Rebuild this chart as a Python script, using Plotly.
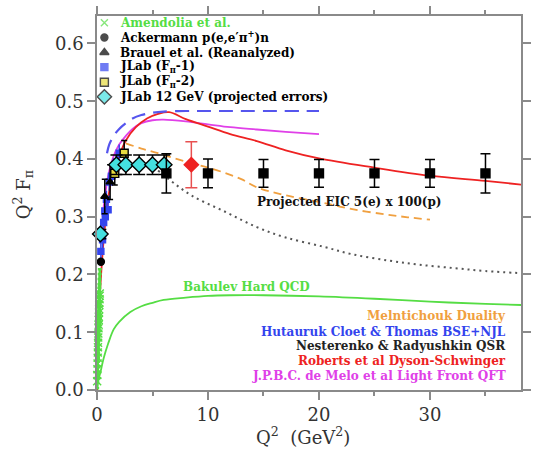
import plotly.graph_objects as go

# ---- theory curves: Q^2 (GeV^2) vs Q^2 F_pi ----
bakulev_q2 = [0, 0.1, 0.3, 0.6, 1, 1.5, 2, 3, 4, 5, 6, 8, 10, 12, 15, 20, 25, 30, 35, 38.5]
bakulev_f = [0, 0.015, 0.03, 0.055, 0.08, 0.105, 0.118, 0.135, 0.145, 0.151, 0.156, 0.16,
             0.163, 0.164, 0.164, 0.162, 0.158, 0.153, 0.149, 0.147]

hutauruk_q2 = [0.9, 1.1, 1.5, 2, 2.6, 3.2, 4, 5, 6, 8, 10, 14, 20]
hutauruk_f = [0.41, 0.425, 0.44, 0.452, 0.462, 0.470, 0.476, 0.480, 0.482, 0.483, 0.483, 0.483, 0.483]

roberts_q2 = [0, 0.1, 0.2, 0.37, 0.6, 0.93, 1.2, 1.6, 2.0, 2.6, 3.5, 4.5, 5.5, 6.5, 8, 10, 12,
              14.4, 17, 20, 25, 30, 35, 38.5]
roberts_f = [0, 0.08, 0.14, 0.2, 0.26, 0.32, 0.354, 0.38, 0.405, 0.432, 0.455, 0.47, 0.478,
             0.481, 0.469, 0.456, 0.443, 0.431, 0.415, 0.401, 0.385, 0.371, 0.362, 0.355]

demelo_q2 = [0.5, 1, 1.5, 2, 2.6, 3.2, 4, 5, 6, 8, 10, 12, 14.4, 17, 20]
demelo_f = [0.30, 0.37, 0.405, 0.425, 0.44, 0.452, 0.462, 0.467, 0.468, 0.465, 0.46, 0.455,
            0.451, 0.447, 0.443]

melnitchouk_q2 = [2.6, 4, 5.5, 7, 8.5, 10, 11.5, 13, 14.4, 17, 20.4, 23, 26, 28, 30]
melnitchouk_f = [0.427, 0.418, 0.41, 0.401, 0.393, 0.385, 0.376, 0.365, 0.351, 0.337, 0.324,
                 0.313, 0.304, 0.299, 0.295]

nesterenko_q2 = [5.5, 6.4, 8.5, 11.5, 14.4, 17, 20.4, 23, 26.3, 29, 32.2, 35, 38.5]
nesterenko_f = [0.38, 0.366, 0.337, 0.309, 0.282, 0.264, 0.248, 0.235, 0.224, 0.217, 0.211,
                0.206, 0.202]

# ---- measurements and projections ----
amendolia_q2 = [0.015, 0.027, 0.039, 0.051, 0.063, 0.075, 0.087, 0.099, 0.111, 0.123, 0.135,
                0.147, 0.159, 0.171, 0.183, 0.195, 0.207, 0.219, 0.231, 0.243, 0.253]
amendolia_f = [0.015, 0.026, 0.036, 0.046, 0.056, 0.065, 0.074, 0.082, 0.091, 0.098, 0.107,
               0.113, 0.121, 0.127, 0.134, 0.140, 0.147, 0.151, 0.157, 0.163, 0.167]
amendolia_err = [0.012, 0.012, 0.014, 0.014, 0.016, 0.016, 0.018, 0.018, 0.02, 0.02, 0.022,
                 0.022, 0.024, 0.024, 0.026, 0.028, 0.03, 0.032, 0.035, 0.038, 0.042]

ackermann_q2 = [0.35]
ackermann_f = [0.222]

brauel_q2 = [0.7, 1.18]
brauel_f = [0.335, 0.36]
brauel_err = [0.03, 0.03]

jlab1_q2 = [0.35, 0.45, 0.5, 0.6, 0.7, 0.75, 0.85, 1.0, 1.1, 1.3, 1.6, 1.75, 2.0]
jlab1_f = [0.24, 0.27, 0.26, 0.29, 0.31, 0.30, 0.33, 0.312, 0.36, 0.37, 0.38, 0.395, 0.41]
jlab1_err = [0.015] * 13

jlab2_q2 = [1.6, 2.45]
jlab2_f = [0.375, 0.41]
jlab2_err = [0.02, 0.022]

jlab12_q2 = [0.3, 1.75, 2.6, 3.8, 5.0, 6.05]
jlab12_f = [0.27, 0.39, 0.39, 0.39, 0.39, 0.39]
jlab12_err = [0.008, 0.017, 0.017, 0.017, 0.017, 0.017]

eic_q2 = [6.25, 10, 15, 20, 25, 30, 35]
eic_f = [0.375, 0.375, 0.375, 0.375, 0.375, 0.375, 0.375]
eic_err = [0.034, 0.025, 0.024, 0.024, 0.024, 0.024, 0.034]

eicc_q2 = [8.5]
eicc_f = [0.39]
eicc_err = [0.04]

GREEN = "#55DD44"
BLUE = "#3344EE"
DASHBLUE = "#5555EE"
RED = "#EE2222"
MAGENTA = "#E040E8"
ORANGE = "#F0A040"
CYAN = "#44E0E0"
YELLOW = "#E8DC40"

fig = go.Figure()

def curve(x, y, color, dash="solid", width=1.8):
    fig.add_trace(go.Scatter(x=x, y=y, mode="lines", line=dict(color=color, width=width,
                                                                 dash=dash, shape="spline"),
                             showlegend=False, hoverinfo="skip"))

curve(bakulev_q2, bakulev_f, GREEN)
curve(nesterenko_q2, nesterenko_f, "#555555", dash="2px,4px", width=2)
curve(melnitchouk_q2, melnitchouk_f, ORANGE, dash="8px,5px")
curve(demelo_q2, demelo_f, MAGENTA)
curve(roberts_q2, roberts_f, RED)
curve(hutauruk_q2, hutauruk_f, DASHBLUE, dash="14px,8px", width=2.2)

def points(x, y, err, symbol, color, size, line_color=None, ecolor=None, xerr=None, cap=4,
           ethick=1.5):
    kw = {}
    if err is not None:
        kw["error_y"] = dict(type="data", array=err, color=ecolor or color, thickness=ethick,
                             width=cap)
    if xerr is not None:
        kw["error_x"] = dict(type="constant", value=xerr, color=ecolor or color, thickness=1.5,
                             width=0)
    fig.add_trace(go.Scatter(x=x, y=y, mode="markers",
                             marker=dict(symbol=symbol, color=color, size=size,
                                         line=dict(color=line_color or color, width=1.4)),
                             showlegend=False, hoverinfo="skip", cliponaxis=False, **kw))

points(amendolia_q2, amendolia_f, amendolia_err, "x-thin", GREEN, 8, cap=2, ethick=2.5)
points(jlab1_q2, jlab1_f, jlab1_err, "square", BLUE, 6, xerr=0.18, cap=0)
points(brauel_q2, brauel_f, brauel_err, "triangle-up", "black", 7, cap=3)
points(ackermann_q2, ackermann_f, None, "circle", "black", 7)
points(jlab2_q2, jlab2_f, jlab2_err, "square", YELLOW, 8, line_color="black", ecolor="black", cap=3)
points(jlab12_q2, jlab12_f, jlab12_err, "diamond", CYAN, 12, line_color="black", ecolor="black", cap=6)
points(eic_q2, eic_f, eic_err, "square", "black", 9, cap=5)
points(eicc_q2, eicc_f, eicc_err, "diamond", RED, 11, ecolor="#E85050", cap=6)

# ---- key in the upper left (pixel-space overlay axes) ----
key_labels = ["Amendolia et al.",
              "Ackermann p(e,e\u2032\u03c0<sup>+</sup>)n",
              "Brauel et al. (Reanalyzed)",
              "JLab (F<sub>\u03c0</sub>-1)",
              "JLab (F<sub>\u03c0</sub>-2)",
              "JLab 12 GeV (projected errors)"]
key_symbols = ["x-thin", "circle", "triangle-up", "square", "square", "diamond"]
key_fill = [GREEN, "black", "black", BLUE, YELLOW, CYAN]
key_edge = [GREEN, "black", "black", BLUE, "black", "black"]
key_size = [7, 7, 8, 7, 8, 11]
key_text_color = [GREEN, "black", "black", "black", "black", "black"]
key_rows = [13, 28, 43.5, 58.5, 74, 89]

fig.add_trace(go.Scatter(x=[105] * len(key_rows), y=key_rows, mode="markers",
                         xaxis="x2", yaxis="y2",
                         marker=dict(symbol=key_symbols, color=key_fill, size=key_size,
                                     line=dict(color=key_edge, width=1.4)),
                         showlegend=False, hoverinfo="skip", cliponaxis=False))

TEXTFONT = "DejaVu Serif"
annotations = []
for lab, row, col in zip(key_labels, key_rows, key_text_color):
    annotations.append(dict(x=119, y=row, xref="x2", yref="y2", text="<b>" + lab + "</b>",
                            showarrow=False, xanchor="left", yanchor="middle",
                            font=dict(family=TEXTFONT, size=12, color=col)))

model_labels = ["Melntichouk Duality", "Hutauruk Cloet & Thomas BSE+NJL",
                "Nesterenko & Radyushkin QSR", "Roberts et al Dyson-Schwinger",
                "J.P.B.C. de Melo et al Light Front QFT"]
model_colors = [ORANGE, BLUE, "#222222", RED, MAGENTA]
model_rows = [314, 330, 345, 360.5, 376]
for lab, row, col in zip(model_labels, model_rows, model_colors):
    annotations.append(dict(x=515, y=row, xref="x2", yref="y2", text="<b>" + lab + "</b>",
                            showarrow=False, xanchor="right", yanchor="middle",
                            font=dict(family=TEXTFONT, size=12, color=col)))

annotations.append(dict(x=258, y=197, xref="x2", yref="y2",
                        text="<b>Projected EIC 5(e) x 100(p)</b>", showarrow=False,
                        xanchor="left", yanchor="middle",
                        font=dict(family=TEXTFONT, size=12, color="#111111")))
annotations.append(dict(x=183, y=284, xref="x2", yref="y2",
                        text="<b>Bakulev Hard QCD</b>", showarrow=False,
                        xanchor="left", yanchor="middle",
                        font=dict(family=TEXTFONT, size=12, color=GREEN)))

# axis titles, placed in paper coordinates outside the plotting area
TITLEFONT = dict(family="DejaVu Serif", size=18, color="#333333")
annotations.append(dict(x=0.485, y=-0.122, xref="paper", yref="paper",
                        xanchor="center", yanchor="middle",
                        text="Q<sup>2</sup>  (GeV<sup>2</sup>)", showarrow=False,
                        font=TITLEFONT))
annotations.append(dict(x=-0.174, y=0.521, xref="paper", yref="paper", textangle=-90,
                        xanchor="center", yanchor="middle",
                        text="Q<sup>2</sup> F<sub>\u03c0</sub>", showarrow=False,
                        font=TITLEFONT))

AXCOL = "#8a8a8a"
axis_common = dict(showline=True, linecolor=AXCOL, linewidth=1.5, mirror="ticks",
                   ticks="outside", tickcolor=AXCOL, tickwidth=1.5, showgrid=False,
                   zeroline=False, tickfont=dict(family="DejaVu Serif", size=18, color="#333333"))

fig.update_layout(
    width=537, height=454,
    margin=dict(l=97, r=9, t=6, b=64),
    paper_bgcolor="white", plot_bgcolor="white",
    showlegend=False,
    xaxis=dict(range=[0, 38.2], tickvals=[0, 10, 20, 30], ticklen=8,
               minor=dict(dtick=5, tick0=0, ticks="outside", ticklen=4, tickcolor=AXCOL,
                          tickwidth=1.5),
               **axis_common),
    yaxis=dict(range=[0, 0.6475], tickvals=[0, 0.1, 0.2, 0.3, 0.4, 0.5, 0.6],
               ticktext=["0.0", "0.1", "0.2", "0.3", "0.4", "0.5", "0.6"], ticklen=8,
               **axis_common),
    xaxis2=dict(range=[97.5, 528], overlaying="x", anchor="y2", visible=False),
    yaxis2=dict(range=[390, 6], overlaying="y", anchor="x2", visible=False),
    annotations=annotations,
)

fig.write_html("out.html")
